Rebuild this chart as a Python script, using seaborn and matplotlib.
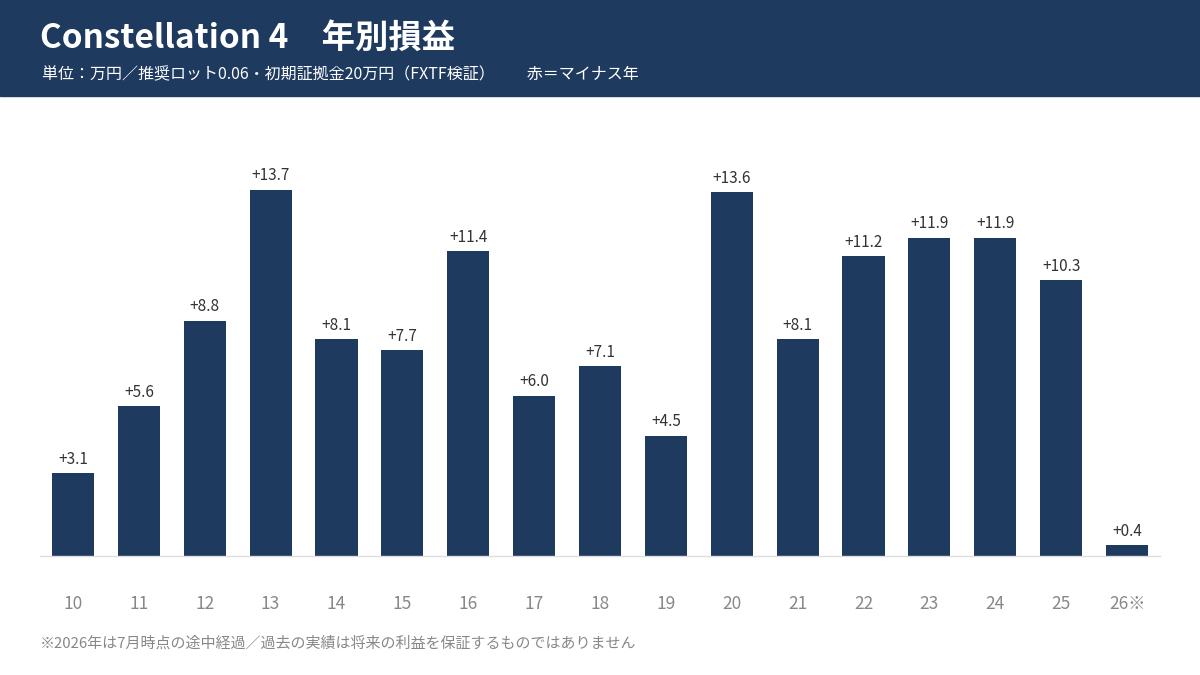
import matplotlib
matplotlib.use("Agg")
import matplotlib.pyplot as plt
import seaborn as sns
import pandas as pd

# data
years = ["10", "11", "12", "13", "14", "15", "16", "17", "18", "19",
         "20", "21", "22", "23", "24", "25", "26※"]
profits = [3.1, 5.6, 8.8, 13.7, 8.1, 7.7, 11.4, 6.0, 7.1, 4.5,
           13.6, 8.1, 11.2, 11.9, 11.9, 10.3, 0.4]

title = "Constellation 4　年別損益"
subtitle = "単位：万円／推奨ロット0.06・初期証拠金20万円（FXTF検証）　　赤＝マイナス年"
footnote = "※2026年は7月時点の途中経過／過去の実績は将来の利益を保証するものではありません"

NAVY = "#1f3a5f"

sns.set_theme(style="white")
plt.rcParams['font.family'] = ['Noto Sans CJK JP', 'DejaVu Sans']

df = pd.DataFrame({"year": years, "profit": profits})
df["color"] = [NAVY if p >= 0 else "#c0392b" for p in profits]

fig = plt.figure(figsize=(12, 6.75), dpi=100)

# header band
fig.patches.append(plt.Rectangle((0, 1 - 96 / 675), 1, 96 / 675,
                                 transform=fig.transFigure, color=NAVY, zorder=0))
fig.text(40 / 1200, 1 - 38 / 675, title, color="white", fontsize=24,
         fontweight="bold", va="center", ha="left")
fig.text(42 / 1200, 1 - 75 / 675, subtitle, color="white", fontsize=11.5,
         va="center", ha="left")

ax = fig.add_axes([40 / 1200, 1 - 556 / 675, 1120 / 1200, 426 / 675])
sns.barplot(data=df, x="year", y="profit", hue="year",
            palette=dict(zip(df["year"], df["color"])), legend=False,
            width=0.64, saturation=1, linewidth=0, ax=ax)

for i, p in enumerate(profits):
    ax.text(i, p + 0.2, f"{p:+.1f}", ha="center", va="bottom",
            fontsize=11, color="#333333")

ax.set_xlim(-0.5, len(years) - 0.5)
ax.set_ylim(0, 426 / 26.75)
ax.set_xlabel("")
ax.set_ylabel("")
ax.set_yticks([])
for s in ["top", "right", "left"]:
    ax.spines[s].set_visible(False)
ax.spines["bottom"].set_color("#dddddd")
ax.spines["bottom"].set_linewidth(1)
ax.tick_params(axis="x", length=0, pad=28, labelsize=12.5, labelcolor="#888888")

fig.text(40 / 1200, 1 - 643 / 675, footnote, color="#888888", fontsize=10.8,
         va="center", ha="left")

fig.savefig("out.png", dpi=100)
